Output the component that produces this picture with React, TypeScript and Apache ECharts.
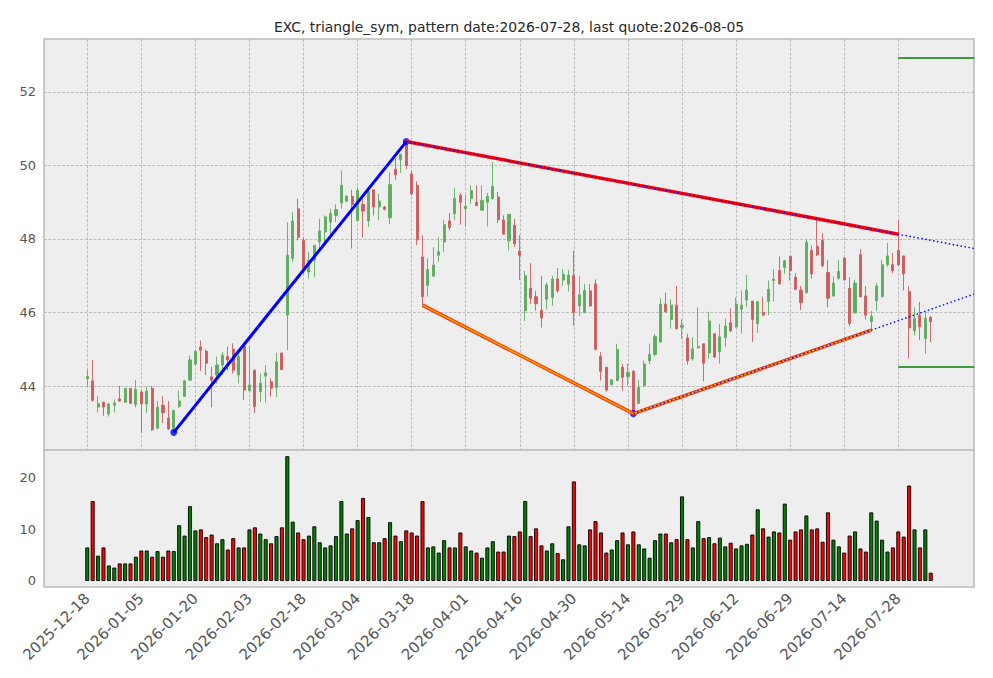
import React, { useEffect, useRef } from "react";
import * as echarts from "echarts";

const TITLE = "EXC, triangle_sym, pattern date:2026-07-28, last quote:2026-08-05";
const FIRST_DATE = "2025-12-18";
const HOLIDAYS = ["2025-12-25", "2026-01-01", "2026-01-19", "2026-02-16", "2026-04-03", "2026-05-25", "2026-06-19", "2026-07-03"];
const PAD_LEFT = 8;
const PAD_RIGHT = 8;
const LABEL_STEP = 10;

const OPEN = [44.2, 44.14, 43.43, 43.56, 43.24, 43.48, 43.65, 43.56, 43.93, 43.5, 43.84, 43.51, 43.93, 42.85, 43.48, 43.13, 42.85, 43.45, 43.72, 44.16, 44.6, 45.06, 44.95, 44.25, 44.3, 44.57, 44.8, 45.0, 44.3, 45.07, 43.87, 44.43, 43.85, 44.27, 44.12, 43.96, 44.9, 45.93, 47.47, 48.82, 47.96, 47.1, 47.42, 47.92, 48.19, 48.46, 48.64, 48.98, 49.03, 49.16, 48.5, 48.94, 48.49, 49.34, 48.87, 48.87, 48.58, 49.9, 50.15, 50.6, 49.77, 49.46, 47.51, 46.74, 46.99, 47.56, 47.92, 48.49, 48.69, 49.19, 48.82, 49.1, 49.0, 48.78, 49.0, 49.1, 49.14, 48.52, 47.95, 48.37, 47.67, 46.05, 46.66, 46.43, 46.06, 46.36, 46.41, 46.91, 46.88, 46.77, 47.0, 46.18, 46.0, 46.59, 46.78, 44.8, 44.51, 44.04, 44.15, 44.51, 44.26, 44.4, 43.53, 44.01, 44.69, 44.86, 45.2, 46.23, 45.81, 46.2, 45.6, 45.31, 44.74, 45.04, 45.15, 44.9, 45.42, 44.93, 45.32, 45.72, 45.61, 46.09, 46.34, 46.31, 45.7, 46.0, 46.3, 46.87, 47.14, 47.23, 47.53, 46.96, 46.61, 46.54, 47.69, 47.8, 47.96, 47.09, 46.45, 46.93, 47.48, 46.66, 45.99, 47.57, 46.45, 45.75, 46.32, 46.43, 47.3, 47.3, 47.69, 47.54, 46.57, 45.5, 45.93, 45.29, 45.87];
const CLOSE = [44.26, 43.61, 43.52, 43.43, 43.51, 43.54, 43.59, 43.93, 43.53, 43.91, 43.52, 43.86, 42.81, 43.42, 43.27, 42.83, 43.33, 43.59, 44.14, 44.71, 44.94, 44.97, 44.62, 44.16, 44.57, 44.84, 44.71, 44.43, 44.8, 43.89, 44.03, 43.44, 44.07, 44.36, 43.94, 44.66, 44.45, 47.56, 48.49, 48.05, 47.19, 47.42, 47.83, 48.22, 48.6, 48.69, 48.8, 49.46, 49.16, 48.94, 49.32, 48.76, 49.28, 48.87, 49.03, 48.81, 49.48, 49.75, 50.3, 50.0, 49.23, 47.98, 46.43, 47.17, 47.29, 47.65, 48.39, 48.31, 49.1, 49.0, 48.89, 49.32, 48.91, 49.05, 49.16, 49.43, 48.52, 48.13, 48.67, 47.87, 47.56, 47.0, 46.39, 46.24, 45.85, 46.75, 46.91, 46.59, 47.04, 47.02, 46.0, 46.48, 46.6, 46.18, 45.0, 44.4, 43.89, 44.17, 45.0, 44.24, 44.37, 43.28, 43.96, 44.6, 44.86, 45.35, 46.23, 46.02, 46.2, 45.56, 45.65, 44.69, 45.01, 45.08, 44.62, 45.77, 44.79, 45.34, 45.63, 45.5, 46.23, 46.2, 46.61, 45.81, 46.29, 45.93, 46.63, 46.91, 46.78, 47.41, 47.14, 46.63, 46.27, 47.91, 47.05, 47.57, 47.27, 46.39, 46.8, 47.12, 46.89, 45.7, 46.8, 46.43, 45.93, 45.9, 46.72, 47.3, 47.54, 47.14, 47.3, 47.05, 45.58, 45.84, 45.61, 45.84, 45.75];
const HIGH = [44.45, 44.71, 43.72, 43.56, 43.54, 43.63, 44.0, 43.94, 43.94, 44.16, 43.9, 43.99, 44.0, 43.59, 43.72, 43.59, 43.36, 43.88, 44.17, 44.83, 44.98, 45.24, 45.0, 44.52, 44.8, 44.93, 45.07, 45.16, 44.89, 45.11, 45.07, 44.45, 44.34, 44.57, 44.21, 44.9, 44.9, 48.46, 48.73, 49.1, 48.05, 47.65, 47.83, 48.55, 48.64, 48.82, 48.94, 49.86, 49.19, 49.34, 49.41, 49.1, 49.41, 49.34, 49.23, 48.9, 49.82, 50.2, 50.32, 50.65, 49.86, 49.57, 48.1, 47.47, 47.78, 48.05, 48.52, 48.71, 49.39, 49.25, 49.19, 49.46, 49.46, 49.46, 49.25, 50.09, 49.28, 48.64, 48.67, 48.55, 48.1, 47.13, 47.34, 46.59, 47.0, 46.82, 47.0, 47.21, 47.18, 47.16, 47.68, 47.0, 46.78, 46.78, 46.9, 44.92, 44.51, 44.17, 45.15, 44.6, 44.6, 44.44, 44.16, 44.69, 45.15, 45.42, 46.38, 46.54, 46.36, 46.72, 45.81, 45.42, 45.33, 46.14, 45.15, 46.02, 45.44, 45.68, 45.84, 46.11, 46.41, 46.6, 47.02, 46.31, 46.32, 46.43, 46.87, 47.18, 47.53, 47.43, 47.54, 47.07, 46.72, 47.98, 47.82, 48.56, 48.16, 47.43, 46.98, 47.43, 47.48, 46.96, 46.89, 47.73, 46.72, 46.04, 46.8, 47.43, 47.89, 47.62, 48.51, 47.54, 46.71, 46.14, 46.29, 46.02, 45.91];
const LOW = [44.0, 43.57, 43.28, 43.19, 43.17, 43.28, 43.57, 43.54, 43.51, 43.42, 42.73, 43.27, 42.78, 42.83, 42.99, 42.81, 42.74, 43.4, 43.7, 44.14, 44.55, 44.41, 44.3, 43.42, 44.07, 44.3, 44.43, 44.34, 44.07, 43.62, 43.87, 43.26, 43.57, 43.55, 43.71, 43.7, 44.43, 44.98, 47.38, 47.96, 47.06, 46.92, 46.97, 47.7, 47.92, 48.14, 48.46, 48.82, 49.0, 47.74, 48.49, 48.04, 48.33, 48.64, 48.51, 48.78, 48.4, 49.6, 49.8, 49.9, 49.18, 47.83, 46.2, 46.43, 46.97, 47.38, 47.65, 48.24, 48.51, 48.39, 48.34, 48.96, 48.89, 48.78, 48.34, 49.07, 48.43, 48.13, 47.69, 47.78, 46.88, 45.77, 46.24, 46.05, 45.59, 46.09, 46.18, 46.54, 46.73, 46.57, 45.64, 45.91, 45.98, 46.16, 44.97, 44.15, 43.85, 44.01, 44.13, 43.87, 44.01, 43.25, 43.51, 43.98, 44.6, 44.8, 45.18, 45.99, 45.56, 45.53, 45.29, 44.58, 44.69, 45.01, 44.13, 44.74, 44.77, 44.61, 45.06, 45.47, 45.59, 45.43, 46.14, 45.2, 45.45, 45.91, 45.93, 46.3, 46.75, 47.05, 46.87, 46.61, 46.07, 46.52, 46.92, 47.53, 47.23, 46.14, 46.43, 46.89, 46.87, 45.63, 45.97, 46.41, 45.81, 45.52, 46.05, 46.41, 47.25, 47.07, 47.27, 46.6, 44.75, 45.38, 45.25, 44.88, 45.2];
const VOLUME = [6.5, 15.5, 4.9, 6.5, 3.0, 2.6, 3.4, 3.4, 3.4, 4.7, 5.9, 5.9, 4.7, 5.8, 4.7, 5.9, 5.8, 10.8, 8.8, 14.5, 9.8, 10.0, 8.5, 9.0, 7.3, 8.1, 6.1, 8.3, 6.5, 6.5, 10.0, 10.4, 9.2, 8.1, 7.3, 8.7, 10.4, 24.2, 11.5, 9.4, 8.1, 8.8, 10.6, 7.5, 6.5, 6.9, 8.7, 15.5, 9.2, 10.2, 11.8, 16.1, 12.4, 7.5, 7.5, 8.3, 11.4, 8.8, 7.7, 9.8, 9.4, 8.8, 15.5, 6.5, 6.7, 5.5, 7.9, 6.5, 6.5, 9.4, 6.7, 5.9, 5.5, 4.5, 6.5, 7.7, 5.7, 5.7, 8.8, 8.7, 9.6, 15.5, 8.7, 10.2, 6.9, 5.9, 7.3, 5.4, 4.2, 10.6, 19.3, 7.1, 6.9, 10.0, 11.6, 9.4, 5.5, 6.1, 7.9, 9.4, 7.1, 9.6, 7.1, 6.3, 4.5, 7.9, 9.2, 9.2, 7.5, 8.1, 16.4, 8.1, 6.5, 11.6, 8.3, 8.5, 7.3, 8.4, 6.7, 7.4, 6.3, 6.9, 7.2, 9.0, 13.9, 10.2, 8.6, 9.6, 9.4, 15.0, 8.0, 9.6, 10.0, 12.7, 10.0, 10.2, 7.6, 13.3, 8.0, 6.7, 5.5, 8.8, 9.6, 6.3, 5.7, 13.3, 11.7, 8.0, 5.7, 6.5, 9.6, 8.6, 18.5, 10.0, 6.5, 10.0, 1.6];

// pattern pivots (bar index, price)
const PIVOT_IDX = [16, 59, 101];
const PIVOT_VAL = [42.74, 50.65, 43.25];
const UPPER_IDX = [59, 135, 150];
const UPPER_VAL = [50.65, 48.55, 48.13];
const LOWER_IDX = [62, 101, 145];
const LOWER_VAL = [46.2, 43.25, 45.52];
const TARGET_START = 150;
const TARGET_VAL = [52.92, 44.52];

const PRICE_TICKS = [44, 46, 48, 50, 52];
const VOLUME_TICKS = [0, 10, 20];

const GREEN = "#5fac5f";
const RED = "#cd5c5c";
const FONT = "DejaVu Sans";

function buildDates(n: number): string[] {
  const hol = new Set(HOLIDAYS);
  const fmt = (d: Date) => d.toISOString().slice(0, 10);
  const ok = (d: Date) => {
    const w = d.getUTCDay();
    return w !== 0 && w !== 6 && !hol.has(fmt(d));
  };
  const start = new Date(FIRST_DATE + "T00:00:00Z");
  const before: string[] = [];
  let d = new Date(start.getTime());
  while (before.length < PAD_LEFT) {
    d = new Date(d.getTime() - 86400000);
    if (ok(d)) before.unshift(fmt(d));
  }
  const after: string[] = [fmt(start)];
  d = new Date(start.getTime());
  while (after.length < n + PAD_RIGHT) {
    d = new Date(d.getTime() + 86400000);
    if (ok(d)) after.push(fmt(d));
  }
  return before.concat(after);
}

export default function App() {
  const ref = useRef<HTMLDivElement>(null);
  useEffect(() => {
    document.body.style.margin = "0";
    if (!ref.current) return;
    const chart = echarts.init(ref.current, undefined, { renderer: "svg" });
    const N = OPEN.length;
    const dates = buildDates(N);
    const lastIdx = N - 1 + PAD_RIGHT; // last bar index on the axis
    const cx = (i: number) => i + PAD_LEFT;
    const showIdx = (index: number) => {
      const i = index - PAD_LEFT;
      return i >= 0 && i < N && i % LABEL_STEP === 0;
    };
    const upSlope = (UPPER_VAL[2] - UPPER_VAL[0]) / (UPPER_IDX[2] - UPPER_IDX[0]);
    const loSlope = (LOWER_VAL[2] - LOWER_VAL[1]) / (LOWER_IDX[2] - LOWER_IDX[1]);
    const upEnd = UPPER_VAL[2] + upSlope * (lastIdx - UPPER_IDX[2]);
    const loEnd = LOWER_VAL[2] + loSlope * (lastIdx - LOWER_IDX[2]);
    const grid = { color: "#b0b0b0", type: [3, 1.5], width: 0.8 };
    const labelStyle = { color: "#555", fontSize: 13, fontFamily: FONT };

    const option: any = {
      animation: false,
      backgroundColor: "#ffffff",
      graphic: [
        {
          type: "text",
          x: 509,
          y: 27,
          style: { text: TITLE, fontSize: 13.9, fontFamily: FONT, fill: "#262626", textAlign: "center", textVerticalAlign: "middle" },
        },
      ],
      grid: [
        { left: 44, top: 39, width: 930, height: 411, show: true, backgroundColor: "#eeeeee", borderColor: "#bcbcbc", borderWidth: 1.6 },
        { left: 44, top: 450, width: 930, height: 137, show: true, backgroundColor: "#eeeeee", borderColor: "#bcbcbc", borderWidth: 1.6 },
      ],
      xAxis: [
        {
          type: "category", gridIndex: 0, data: dates, boundaryGap: false,
          axisLine: { show: false }, axisTick: { show: false }, axisLabel: { show: false },
          splitLine: { show: true, interval: (idx: number) => showIdx(idx), lineStyle: grid },
        },
        {
          type: "category", gridIndex: 1, data: dates, boundaryGap: false,
          axisLine: { show: false }, axisTick: { show: false },
          axisLabel: { ...labelStyle, fontSize: 15, interval: (idx: number) => showIdx(idx), rotate: 45, margin: 9 },
          splitLine: { show: false },
        },
      ],
      yAxis: [
        {
          type: "value", gridIndex: 0, min: 42.26, max: 53.44,
          axisLine: { show: false },
          axisTick: { show: false, customValues: PRICE_TICKS },
          axisLabel: { ...labelStyle, customValues: PRICE_TICKS, margin: 8 },
          splitLine: { show: true, lineStyle: grid },
        },
        {
          type: "value", gridIndex: 1, min: -1.17, max: 25.4,
          axisLine: { show: false },
          axisTick: { show: false, customValues: VOLUME_TICKS },
          axisLabel: { ...labelStyle, customValues: VOLUME_TICKS, margin: 8 },
          splitLine: { show: false },
        },
      ],
      series: [
        {
          type: "candlestick", xAxisIndex: 0, yAxisIndex: 0,
          data: OPEN.map((o, i) => [cx(i), o, CLOSE[i], LOW[i], HIGH[i]]),
          encode: { x: 0, y: [1, 2, 3, 4] },
          barWidth: 2.6,
          itemStyle: { color: GREEN, color0: RED, borderColor: GREEN, borderColor0: RED, borderWidth: 0.9 },
        },
        {
          type: "bar", xAxisIndex: 1, yAxisIndex: 1, barWidth: 4,
          data: VOLUME.map((v, i) => ({
            value: [cx(i), v],
            itemStyle: { color: CLOSE[i] >= OPEN[i] ? "#008000" : "#ff0000", borderColor: "#000", borderWidth: 0.9 },
          })),
        },
        {
          type: "line", xAxisIndex: 0, yAxisIndex: 0,
          data: UPPER_IDX.map((x, k) => [cx(x), UPPER_VAL[k]]),
          lineStyle: { color: "#ff0000", width: 3.5 }, symbol: "circle", symbolSize: 6,
          itemStyle: { color: "#ff0000" },
        },
        {
          type: "line", xAxisIndex: 0, yAxisIndex: 0,
          data: LOWER_IDX.map((x, k) => [cx(x), LOWER_VAL[k]]),
          lineStyle: { color: "#ff2a00", width: 3.5 }, symbol: "none",
        },
        {
          type: "line", xAxisIndex: 0, yAxisIndex: 0,
          data: LOWER_IDX.map((x, k) => [cx(x), LOWER_VAL[k]]),
          lineStyle: { color: "#ffa500", width: 1.6 }, symbol: "circle", symbolSize: 7,
          itemStyle: { color: "#ffa500" },
        },
        {
          type: "line", xAxisIndex: 0, yAxisIndex: 0,
          data: PIVOT_IDX.slice(0, 2).map((x, k) => [cx(x), PIVOT_VAL[k]]),
          lineStyle: { color: "#0000ff", width: 3 }, symbol: "none",
        },
        {
          type: "line", xAxisIndex: 0, yAxisIndex: 0,
          data: [[cx(UPPER_IDX[0]), UPPER_VAL[0]], [cx(UPPER_IDX[2]), UPPER_VAL[2]], [cx(lastIdx), upEnd]],
          lineStyle: { color: "#0000ff", width: 1.4, type: [1.5, 2.5] }, symbol: "none",
        },
        {
          type: "line", xAxisIndex: 0, yAxisIndex: 0,
          data: [[cx(LOWER_IDX[1]), LOWER_VAL[1]], [cx(LOWER_IDX[2]), LOWER_VAL[2]], [cx(lastIdx), loEnd]],
          lineStyle: { color: "#0000ff", width: 1.4, type: [1.5, 2.5] }, symbol: "none",
        },
        {
          type: "scatter", xAxisIndex: 0, yAxisIndex: 0, symbolSize: 7,
          data: PIVOT_IDX.map((x, k) => [cx(x), PIVOT_VAL[k]]),
          itemStyle: { color: "#0000ff" },
        },
        ...TARGET_VAL.map((v) => ({
          type: "line", xAxisIndex: 0, yAxisIndex: 0, symbol: "none",
          data: [[cx(TARGET_START), v], [cx(lastIdx), v]],
          lineStyle: { color: "#008000", width: 1.5 },
        })),
      ],
    };
    chart.setOption(option);
    return () => chart.dispose();
  }, []);
  return <div ref={ref} style={{ width: 993, height: 678 }} />;
}
